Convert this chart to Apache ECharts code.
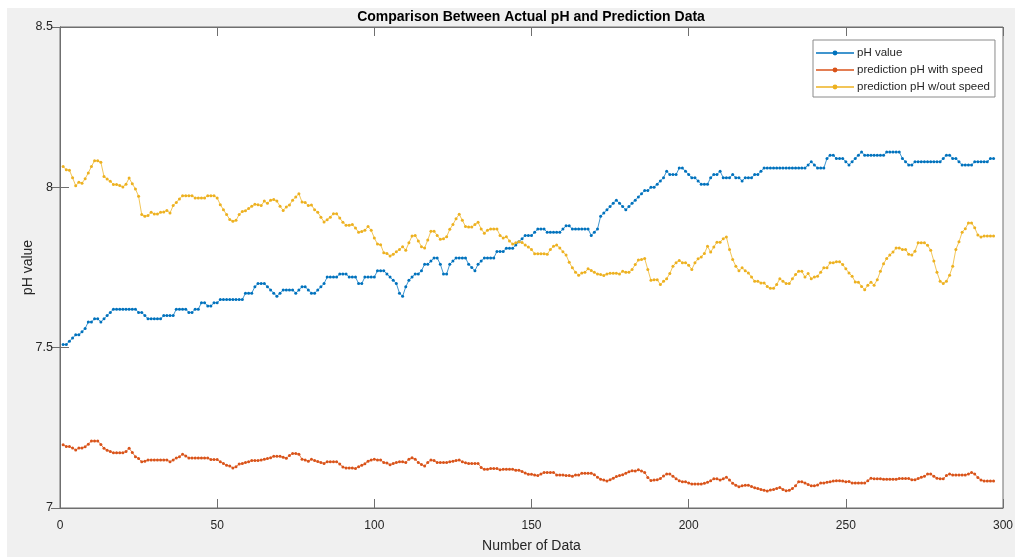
<!DOCTYPE html>
<html>
<head>
<meta charset="utf-8">
<title>Comparison Between Actual pH and Prediction Data</title>
<script src="https://cdn.jsdelivr.net/npm/echarts@6/dist/echarts.min.js"></script>
<style>
  html, body { margin: 0; padding: 0; background: #ffffff; }
  #chart { width: 1015px; height: 557px; }
</style>
</head>
<body>
<div id="chart"></div>
<script>
// Measured pH, one reading per sample (samples 1..297)
const phValue = [
  7.51,7.51,7.52,7.53,7.54,7.54,7.55,7.56,7.58,7.58,
  7.59,7.59,7.58,7.59,7.60,7.61,7.62,7.62,7.62,7.62,
  7.62,7.62,7.62,7.62,7.61,7.61,7.60,7.59,7.59,7.59,
  7.59,7.59,7.60,7.60,7.60,7.60,7.62,7.62,7.62,7.62,
  7.61,7.61,7.62,7.62,7.64,7.64,7.63,7.63,7.64,7.64,
  7.65,7.65,7.65,7.65,7.65,7.65,7.65,7.65,7.67,7.67,
  7.67,7.69,7.70,7.70,7.70,7.69,7.68,7.67,7.66,7.67,
  7.68,7.68,7.68,7.68,7.67,7.68,7.69,7.69,7.68,7.67,
  7.67,7.68,7.69,7.70,7.72,7.72,7.72,7.72,7.73,7.73,
  7.73,7.72,7.72,7.72,7.70,7.70,7.72,7.72,7.72,7.72,
  7.74,7.74,7.74,7.73,7.72,7.71,7.70,7.67,7.66,7.69,
  7.71,7.72,7.73,7.73,7.74,7.76,7.76,7.77,7.78,7.78,
  7.76,7.73,7.73,7.76,7.77,7.78,7.78,7.78,7.78,7.76,
  7.75,7.74,7.76,7.77,7.78,7.78,7.78,7.78,7.80,7.80,
  7.80,7.81,7.81,7.81,7.82,7.83,7.84,7.85,7.85,7.85,
  7.86,7.87,7.87,7.87,7.86,7.86,7.86,7.86,7.86,7.87,
  7.88,7.88,7.87,7.87,7.87,7.87,7.87,7.87,7.85,7.86,
  7.87,7.91,7.92,7.93,7.94,7.95,7.96,7.95,7.94,7.93,
  7.94,7.95,7.96,7.97,7.98,7.99,7.99,8.00,8.00,8.01,
  8.02,8.03,8.05,8.04,8.04,8.04,8.06,8.06,8.05,8.04,
  8.03,8.03,8.02,8.01,8.01,8.01,8.03,8.04,8.04,8.05,
  8.03,8.03,8.03,8.04,8.03,8.03,8.02,8.03,8.03,8.03,
  8.04,8.04,8.05,8.06,8.06,8.06,8.06,8.06,8.06,8.06,
  8.06,8.06,8.06,8.06,8.06,8.06,8.06,8.07,8.08,8.07,
  8.06,8.06,8.06,8.09,8.10,8.10,8.09,8.09,8.09,8.08,
  8.07,8.08,8.09,8.10,8.11,8.10,8.10,8.10,8.10,8.10,
  8.10,8.10,8.11,8.11,8.11,8.11,8.11,8.09,8.08,8.07,
  8.07,8.08,8.08,8.08,8.08,8.08,8.08,8.08,8.08,8.08,
  8.09,8.10,8.10,8.09,8.09,8.08,8.07,8.07,8.07,8.07,
  8.08,8.08,8.08,8.08,8.08,8.09,8.09
];

// Model output when vehicle speed is an input
const predWithSpeed = [
  7.197,7.192,7.192,7.187,7.181,7.187,7.187,7.191,7.199,7.209,
  7.209,7.209,7.198,7.186,7.180,7.176,7.172,7.172,7.172,7.172,
  7.176,7.186,7.173,7.160,7.154,7.144,7.146,7.150,7.150,7.150,
  7.150,7.150,7.150,7.150,7.144,7.150,7.156,7.160,7.168,7.162,
  7.156,7.156,7.156,7.156,7.156,7.156,7.156,7.151,7.151,7.151,
  7.144,7.139,7.133,7.131,7.125,7.129,7.137,7.139,7.142,7.144,
  7.148,7.148,7.148,7.150,7.152,7.154,7.157,7.161,7.161,7.161,
  7.158,7.155,7.164,7.170,7.170,7.168,7.152,7.150,7.146,7.152,
  7.148,7.145,7.142,7.139,7.144,7.144,7.144,7.144,7.137,7.128,
  7.125,7.125,7.125,7.123,7.129,7.133,7.138,7.146,7.150,7.152,
  7.150,7.150,7.142,7.140,7.135,7.139,7.142,7.144,7.144,7.142,
  7.152,7.157,7.152,7.142,7.136,7.131,7.142,7.150,7.148,7.142,
  7.142,7.142,7.142,7.144,7.146,7.148,7.150,7.144,7.141,7.139,
  7.139,7.139,7.139,7.126,7.121,7.121,7.123,7.123,7.123,7.119,
  7.121,7.121,7.121,7.121,7.118,7.118,7.114,7.109,7.105,7.105,
  7.103,7.101,7.106,7.111,7.111,7.111,7.111,7.103,7.103,7.103,
  7.101,7.101,7.099,7.103,7.103,7.108,7.108,7.108,7.108,7.104,
  7.096,7.090,7.087,7.084,7.088,7.093,7.098,7.101,7.104,7.108,
  7.113,7.116,7.115,7.119,7.115,7.111,7.095,7.086,7.087,7.088,
  7.092,7.100,7.106,7.106,7.099,7.091,7.085,7.082,7.082,7.078,
  7.075,7.075,7.075,7.075,7.077,7.080,7.085,7.091,7.091,7.087,
  7.091,7.096,7.087,7.077,7.071,7.066,7.069,7.071,7.071,7.067,
  7.063,7.061,7.058,7.055,7.053,7.056,7.058,7.061,7.064,7.058,
  7.054,7.055,7.061,7.069,7.082,7.082,7.078,7.073,7.069,7.069,
  7.072,7.078,7.078,7.080,7.082,7.084,7.085,7.085,7.084,7.082,
  7.083,7.078,7.078,7.078,7.078,7.078,7.085,7.093,7.091,7.091,
  7.091,7.090,7.090,7.090,7.090,7.090,7.092,7.092,7.092,7.092,
  7.088,7.088,7.092,7.096,7.099,7.106,7.106,7.099,7.093,7.091,
  7.091,7.101,7.106,7.103,7.103,7.103,7.103,7.103,7.106,7.111,
  7.106,7.095,7.087,7.084,7.084,7.084,7.084
];

// Model output without the speed input
const predWithoutSpeed = [
  8.065,8.055,8.053,8.030,8.005,8.016,8.013,8.027,8.045,8.065,
  8.083,8.083,8.078,8.034,8.026,8.019,8.009,8.009,8.006,8.001,
  8.010,8.029,8.011,7.995,7.972,7.915,7.910,7.912,7.922,7.917,
  7.917,7.922,7.923,7.928,7.920,7.943,7.953,7.964,7.974,7.974,
  7.974,7.974,7.967,7.967,7.967,7.967,7.974,7.974,7.974,7.967,
  7.946,7.930,7.915,7.900,7.894,7.897,7.915,7.925,7.927,7.934,
  7.941,7.947,7.946,7.943,7.957,7.950,7.960,7.962,7.957,7.941,
  7.928,7.939,7.945,7.960,7.970,7.980,7.954,7.953,7.943,7.945,
  7.930,7.922,7.907,7.892,7.899,7.907,7.918,7.918,7.904,7.891,
  7.882,7.882,7.884,7.873,7.860,7.862,7.866,7.878,7.866,7.842,
  7.823,7.821,7.796,7.794,7.786,7.791,7.799,7.806,7.815,7.804,
  7.827,7.848,7.850,7.833,7.815,7.811,7.836,7.863,7.863,7.850,
  7.838,7.840,7.846,7.869,7.884,7.902,7.916,7.897,7.878,7.876,
  7.876,7.884,7.891,7.870,7.857,7.866,7.870,7.870,7.870,7.850,
  7.842,7.846,7.833,7.823,7.827,7.830,7.828,7.820,7.814,7.806,
  7.793,7.793,7.793,7.793,7.791,7.806,7.816,7.820,7.811,7.799,
  7.789,7.766,7.749,7.735,7.726,7.733,7.735,7.746,7.741,7.735,
  7.730,7.728,7.725,7.730,7.732,7.732,7.732,7.730,7.738,7.735,
  7.735,7.744,7.759,7.773,7.775,7.778,7.744,7.710,7.712,7.712,
  7.697,7.707,7.715,7.731,7.754,7.765,7.772,7.765,7.765,7.757,
  7.744,7.765,7.777,7.783,7.794,7.816,7.798,7.814,7.829,7.829,
  7.840,7.845,7.806,7.775,7.754,7.740,7.749,7.740,7.733,7.720,
  7.707,7.707,7.702,7.702,7.691,7.685,7.685,7.697,7.715,7.707,
  7.700,7.700,7.715,7.728,7.738,7.738,7.720,7.731,7.715,7.720,
  7.723,7.735,7.749,7.749,7.765,7.765,7.768,7.768,7.759,7.746,
  7.733,7.723,7.705,7.704,7.691,7.681,7.695,7.704,7.695,7.712,
  7.738,7.762,7.778,7.789,7.798,7.811,7.811,7.806,7.806,7.791,
  7.789,7.801,7.827,7.827,7.827,7.819,7.804,7.770,7.735,7.707,
  7.700,7.707,7.726,7.754,7.806,7.830,7.860,7.871,7.889,7.889,
  7.874,7.851,7.845,7.848,7.848,7.848,7.848
];

const seriesNames = ['pH value', 'prediction pH with speed', 'prediction pH w/out speed'];
const seriesColors = ['#0072BD', '#D95319', '#EDB120'];
const xTicks = { min: 0, max: 300, interval: 50 };
const yTicks = { min: 7, max: 8.5, interval: 0.5 };

const FONT = '"Liberation Sans", Arial, Helvetica, sans-serif';
const INK = '#262626';
const FRAME = '#6f6f6f';

// pair each reading with its sample number (1-based)
const toPoints = arr => arr.map((v, i) => [i + 1, v]);

const chart = echarts.init(document.getElementById('chart'), null, { renderer: 'canvas' });

const frameAxis = {
  axisLine: { show: true, lineStyle: { color: FRAME, width: 1 } },
  axisTick: { show: true, inside: true, length: 9, lineStyle: { color: FRAME, width: 1 } },
  splitLine: { show: false }
};

function lineSeries(name, data, color) {
  return {
    name: name,
    type: 'line',
    data: toPoints(data),
    xAxisIndex: 0,
    yAxisIndex: 0,
    showSymbol: true,
    symbol: 'circle',
    symbolSize: 3,
    itemStyle: { color: color },
    lineStyle: { color: color, width: 1, opacity: 0.75 },
    emphasis: { disabled: true },
    animation: false
  };
}

chart.setOption({
  backgroundColor: 'transparent',
  animation: false,
  graphic: [
    {
      type: 'rect',
      z: -10,
      silent: true,
      shape: { x: 7, y: 8, width: 1008, height: 549 },
      style: { fill: '#f0f0f0' }
    }
  ],
  title: {
    text: 'Comparison Between Actual pH and Prediction Data',
    left: 526,
    top: 5,
    textAlign: 'center',
    textStyle: { fontFamily: FONT, fontSize: 14, fontWeight: 'bold', color: '#000' }
  },
  legend: {
    orient: 'vertical',
    left: 813,
    top: 40,
    itemWidth: 38,
    itemHeight: 6,
    itemGap: 5,
    padding: [7, 5, 4, 2],
    backgroundColor: '#ffffff',
    borderColor: '#8a8a8a',
    borderWidth: 1,
    borderRadius: 0,
    data: seriesNames,
    textStyle: { fontFamily: FONT, fontSize: 11.5, color: INK, padding: [0, 0, 0, -2] }
  },
  grid: {
    left: 60,
    right: 12,
    top: 27,
    bottom: 49,
    show: true,
    backgroundColor: '#ffffff',
    borderColor: FRAME,
    borderWidth: 1,
    containLabel: false,
    outerBoundsMode: 'none'
  },
  xAxis: [
    Object.assign({
      type: 'value',
      position: 'bottom',
      min: xTicks.min,
      max: xTicks.max,
      interval: xTicks.interval,
      name: 'Number of Data',
      nameLocation: 'middle',
      nameGap: 31,
      nameMoveOverlap: false,
      nameTextStyle: { fontFamily: FONT, fontSize: 14, color: INK },
      axisLabel: { fontFamily: FONT, fontSize: 12, color: INK, margin: 12 }
    }, frameAxis),
    Object.assign({
      type: 'value',
      position: 'top',
      min: xTicks.min,
      max: xTicks.max,
      interval: xTicks.interval,
      axisLabel: { show: false }
    }, frameAxis)
  ],
  yAxis: [
    Object.assign({
      type: 'value',
      position: 'left',
      min: yTicks.min,
      max: yTicks.max,
      interval: yTicks.interval,
      name: 'pH value',
      nameLocation: 'middle',
      nameGap: 25,
      nameMoveOverlap: false,
      nameRotate: 90,
      nameTextStyle: { fontFamily: FONT, fontSize: 14, color: INK },
      axisLabel: { fontFamily: FONT, fontSize: 12.5, color: INK, margin: 7 }
    }, frameAxis),
    Object.assign({
      type: 'value',
      position: 'right',
      min: yTicks.min,
      max: yTicks.max,
      interval: yTicks.interval,
      axisLabel: { show: false }
    }, frameAxis)
  ],
  series: [
    lineSeries(seriesNames[0], phValue, seriesColors[0]),
    lineSeries(seriesNames[1], predWithSpeed, seriesColors[1]),
    lineSeries(seriesNames[2], predWithoutSpeed, seriesColors[2])
  ]
});
</script>
</body>
</html>
